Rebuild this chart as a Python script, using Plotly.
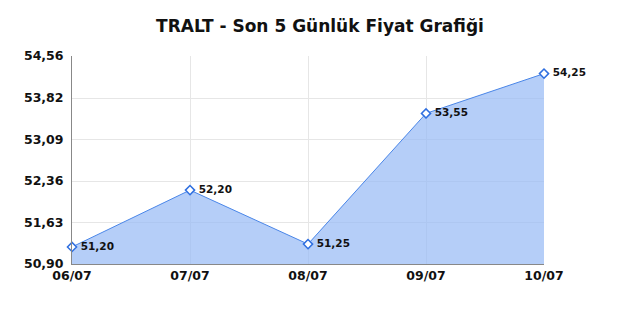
import plotly.graph_objects as go

dates = ["06/07", "07/07", "08/07", "09/07", "10/07"]
prices = [51.20, 52.20, 51.25, 53.55, 54.25]
price_labels = ["51,20", "52,20", "51,25", "53,55", "54,25"]
y_ticks = [50.90, 51.63, 52.36, 53.09, 53.82, 54.56]
y_tick_labels = ["50,90", "51,63", "52,36", "53,09", "53,82", "54,56"]

fig = go.Figure()
fig.add_trace(go.Scatter(
    x=list(range(len(dates))), y=prices,
    mode="lines+markers+text",
    fill="tozeroy",
    fillcolor="rgba(150,185,245,0.7)",
    line=dict(color="#4a86e8", width=1),
    marker=dict(symbol="diamond", size=7, color="white",
                line=dict(color="#2f6fe0", width=1.5)),
    text=[" <b>%s</b>" % t for t in price_labels],
    textposition="middle right",
    textfont=dict(family="DejaVu Sans", size=10.5, color="#111"),
    cliponaxis=False,
    hoverinfo="skip",
))

fig.update_layout(
    width=640, height=320,
    margin=dict(l=72, r=96, t=56, b=56),
    paper_bgcolor="white", plot_bgcolor="white",
    showlegend=False,
    title=dict(text="<b>TRALT - Son 5 Günlük Fiyat Grafiği</b>",
               x=0.5, xanchor="center", y=1 - 26/320, yanchor="middle",
               font=dict(family="DejaVu Sans", size=17, color="#111")),
    font=dict(family="DejaVu Sans", color="#111"),
)
fig.update_xaxes(
    range=[0, 4], tickvals=list(range(len(dates))),
    ticktext=["<b>%s</b>" % d for d in dates],
    tickfont=dict(size=12.5, color="#111"),
    showgrid=True, gridcolor="#e6e6e6", gridwidth=1,
    showline=True, linecolor="#888", linewidth=1,
    ticks="", zeroline=False, fixedrange=True,
)
fig.update_yaxes(
    range=[50.90, 54.56], tickvals=y_ticks,
    ticktext=["<b>%s</b>" % t for t in y_tick_labels],
    tickfont=dict(size=12.5, color="#111"),
    ticklabelstandoff=5,
    showgrid=True, gridcolor="#e6e6e6", gridwidth=1,
    showline=True, linecolor="#888", linewidth=1,
    ticks="", zeroline=False, fixedrange=True,
)

fig.write_html("out.html")
